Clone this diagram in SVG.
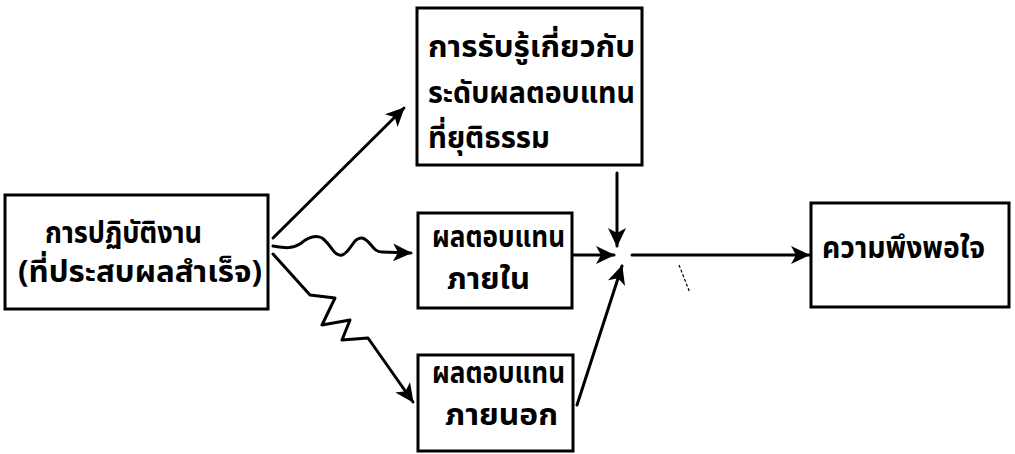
<svg xmlns="http://www.w3.org/2000/svg" width="1015" height="454" viewBox="0 0 1015 454">
<style>
.box{fill:#fff;stroke:#000;stroke-width:3}
.t{font-family:"Noto Sans Thai","Noto Sans","DejaVu Sans",sans-serif;font-size:30px;fill:#000;font-weight:bold}
.c{fill:none;stroke:#000;stroke-width:3;stroke-linejoin:round;stroke-linecap:round}
</style>
<defs>
<marker id="ah" markerUnits="userSpaceOnUse" markerWidth="20" markerHeight="18" refX="18" refY="9" orient="auto">
<path d="M0,0 L19,9 L0,18 L5,9 Z" fill="#000"/>
</marker>
</defs>
<rect width="1015" height="454" fill="#fff"/>
<g id="connectors">
<path class="c" d="M273,238 L404,108" marker-end="url(#ah)"/>
<path class="c" d="M273,246 C285,248 292,249 300,244 C307,238 314,234 322,238 C331,244 334,257 342,255 C351,252 353,237 362,238 C371,240 372,252 382,252 L411,253" marker-end="url(#ah)"/>
<path class="c" d="M273,254 L310,295 L335,298 L322,325 L350,320 L342,340 L368,338 L413,402" marker-end="url(#ah)"/>
<path class="c" d="M617,173 L617,246" marker-end="url(#ah)"/>
<path class="c" d="M572,255 L614,255" marker-end="url(#ah)"/>
<path class="c" d="M577,405 L622,266" marker-end="url(#ah)"/>
<path class="c" d="M632,255 L809,255" marker-end="url(#ah)"/>
<path d="M679,265 L690,293" stroke="#000" stroke-width="1.2" stroke-dasharray="3,2" fill="none"/>
</g>
<g id="node-performance">
<rect class="box" x="5" y="195" width="263" height="114"/>
<text class="t" x="45" y="243" textLength="157" lengthAdjust="spacingAndGlyphs">การปฏิบัติงาน</text>
<text class="t" x="18" y="282" textLength="244" lengthAdjust="spacingAndGlyphs">(ที่ประสบผลสำเร็จ)</text>
</g>
<g id="node-equity">
<rect class="box" x="417" y="8" width="225" height="157"/>
<text class="t" x="428" y="57" textLength="207" lengthAdjust="spacingAndGlyphs">การรับรู้เกี่ยวกับ</text>
<text class="t" x="428" y="103" textLength="207" lengthAdjust="spacingAndGlyphs">ระดับผลตอบแทน</text>
<text class="t" x="428" y="148" textLength="122" lengthAdjust="spacingAndGlyphs">ที่ยุติธรรม</text>
</g>
<g id="node-intrinsic">
<rect class="box" x="418" y="213" width="154" height="95"/>
<text class="t" x="432" y="247" textLength="133" lengthAdjust="spacingAndGlyphs">ผลตอบแทน</text>
<text class="t" x="447" y="289" textLength="83" lengthAdjust="spacingAndGlyphs">ภายใน</text>
</g>
<g id="node-extrinsic">
<rect class="box" x="418" y="355" width="155" height="96"/>
<text class="t" x="432" y="383" textLength="133" lengthAdjust="spacingAndGlyphs">ผลตอบแทน</text>
<text class="t" x="445" y="425" textLength="113" lengthAdjust="spacingAndGlyphs">ภายนอก</text>
</g>
<g id="node-satisfaction">
<rect class="box" x="811" y="203" width="198" height="104"/>
<text class="t" x="822" y="258" textLength="163" lengthAdjust="spacingAndGlyphs">ความพึงพอใจ</text>
</g>
</svg>
